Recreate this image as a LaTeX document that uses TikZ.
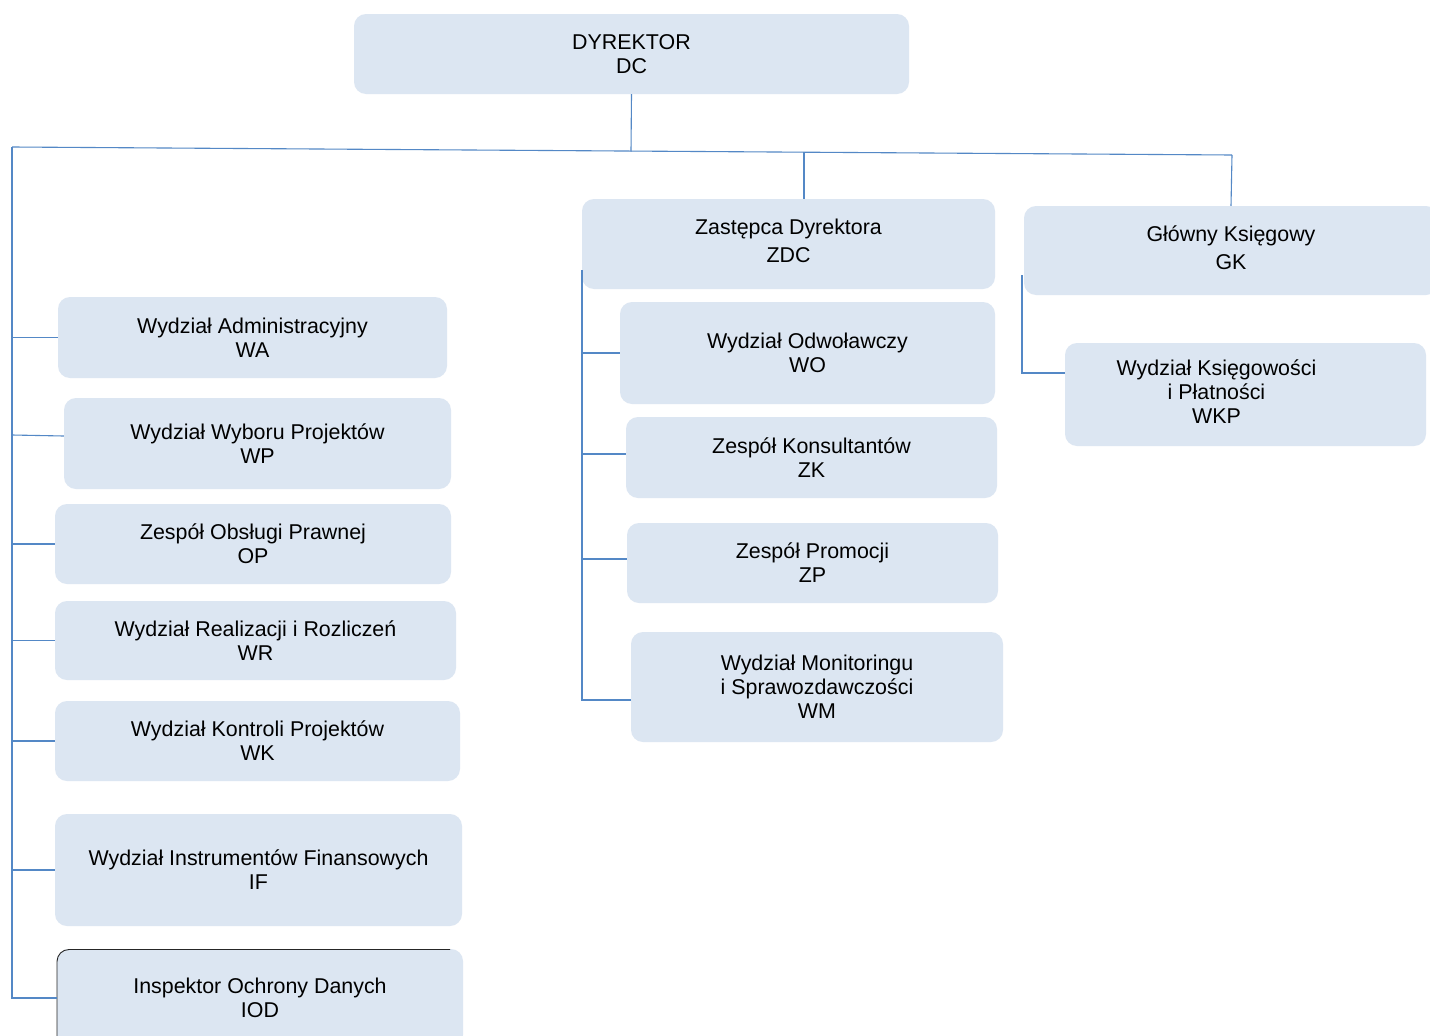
\documentclass[tikz,border=0pt]{standalone}
\usepackage{fontspec}
\setmainfont{Liberation Sans}
\definecolor{boxfill}{RGB}{220,230,242}
\definecolor{linec}{RGB}{84,136,198}
\begin{document}
\begin{tikzpicture}[x=1pt,y=-1pt,
  box/.style={fill=boxfill, rounded corners=12pt, align=center, inner sep=0pt,
    font=\fontsize{21.4}{24}\selectfont},
  conn/.style={draw=linec, line width=1.1pt}]
\clip (0,0) rectangle (1430,1036);
\fill[white] (0,0) rectangle (1430,1036);
% top
\node[box, minimum width=555, minimum height=80] (dc) at (631.5,54) {DYREKTOR\\DC};
\node[box, minimum width=413, minimum height=90] (zdc) at (788.5,244) {\raisebox{4pt}{\begin{tabular}{@{}c@{}}Zastępca Dyrektora\\[4pt]ZDC\end{tabular}}};
\node[box, minimum width=414, minimum height=89] (gk) at (1231,250.5) {\raisebox{5pt}{\begin{tabular}{@{}c@{}}Główny Księgowy\\[4pt]GK\end{tabular}}};
% left column
\node[box, minimum width=389, minimum height=81] (wa) at (252.5,337.5) {Wydział Administracyjny\\WA};
\node[box, minimum width=387, minimum height=91] (wp) at (257.5,443.5) {Wydział Wyboru Projektów\\WP};
\node[box, minimum width=396, minimum height=80] (op) at (253,544) {Zespół Obsługi Prawnej\\OP};
\node[box, minimum width=401, minimum height=79] (wr) at (255.5,640.5) {Wydział Realizacji i Rozliczeń\\WR};
\node[box, minimum width=405, minimum height=80] (wk) at (257.5,741) {Wydział Kontroli Projektów\\WK};
\node[box, minimum width=407, minimum height=112] (if) at (258.5,870) {Wydział Instrumentów Finansowych\\IF};
\node[box, minimum width=406, minimum height=98] (iod) at (260,998) {Inspektor Ochrony Danych\\IOD};
\draw[black!85, line width=0.9pt, rounded corners=12pt] (57,1040) -- (57,949.5) -- (450,949.5);
% middle column
\node[box, minimum width=375, minimum height=102] (wo) at (807.5,353) {Wydział Odwoławczy\\WO};
\node[box, minimum width=371, minimum height=81] (zk) at (811.5,457.5) {Zespół Konsultantów\\ZK};
\node[box, minimum width=371, minimum height=80] (zp) at (812.5,563) {Zespół Promocji\\ZP};
\node[box, minimum width=372, minimum height=110] (wm) at (817,687) {Wydział Monitoringu\\i Sprawozdawczości\\WM};
% right column
\node[box, minimum width=361, minimum height=103] (wkp) at (1245.5,394.5) {\hspace*{-58pt}\begin{tabular}{@{}c@{}}Wydział Księgowości\\i Płatności\\WKP\end{tabular}};
% coordinates
\coordinate (tl) at (12,147);
\coordinate (tr) at (1232,155);
\coordinate (bl) at (12,998);
\coordinate (mtop) at (582,270);
\coordinate (mbot) at (582,700);
\coordinate (rtop) at (1022,275);
\coordinate (rbot) at (1022,373);
% connectors
\draw[conn] (dc.south) -- (631,151.5);
\draw[conn] (tl) -- (tr);
\draw[conn] (tr) -- (gk.north);
\draw[conn] (804,152.2) -- (zdc.north -| 804,0);
\draw[conn] (tl) -- (bl) -- (iod.west);
\draw[conn] (wa.west -| tl) -- (wa.west);
\draw[conn] (12,435) -- ([yshift=7.5pt]wp.west);
\draw[conn] (op.west -| tl) -- (op.west);
\draw[conn] (wr.west -| tl) -- (wr.west);
\draw[conn] (wk.west -| tl) -- (wk.west);
\draw[conn] (if.west -| tl) -- (if.west);
\draw[conn] (mtop) -- (mbot) -- (wm.west |- mbot);
\draw[conn] (wo.west -| mtop) -- (wo.west);
\draw[conn] ([yshift=3.5pt]zk.west -| mtop) -- ([yshift=3.5pt]zk.west);
\draw[conn] ([yshift=4pt]zp.west -| mtop) -- ([yshift=4pt]zp.west);
\draw[conn] (rtop) -- (rbot) -- (wkp.west |- rbot);
\end{tikzpicture}
\end{document}
